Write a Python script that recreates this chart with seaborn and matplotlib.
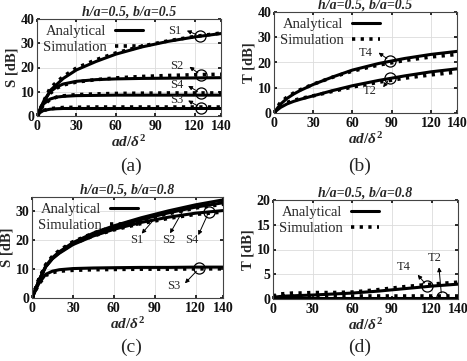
import matplotlib
matplotlib.use("Agg")
import matplotlib.pyplot as plt
from matplotlib.lines import Line2D
import seaborn as sns

# sample points along ad/delta^2
x_pts = [0, 2, 5, 10, 15, 20, 30, 45, 60, 80, 100, 120, 140]

# (a) h/a=0.5, b/a=0.5  -- S parameters
s1_ana_a = [0, 2, 5.5, 10.5, 13, 15.5, 19, 22.5, 25.5, 28.5, 30.8, 32.6, 34]
s1_sim_a = [0, 2.3, 6, 11.5, 14, 16.3, 19.8, 23.2, 26, 28.8, 31, 32.8, 34.2]
s2_ana_a = [0, 2.5, 6, 10, 12, 13.2, 14.3, 15, 15.3, 15.5, 15.6, 15.7, 15.8]
s2_sim_a = [0, 2.3, 5.5, 9.3, 11.5, 12.8, 14, 15, 15.7, 16.3, 16.7, 17, 17.2]
s4_ana_a = [0, 2.2, 5, 7, 7.8, 8.1, 8.4, 8.5, 8.6, 8.6, 8.6, 8.6, 8.6]
s4_sim_a = [0, 2, 4.6, 6.8, 7.8, 8.3, 8.8, 9.1, 9.3, 9.4, 9.5, 9.5, 9.5]
s3_ana_a = [0, 1.3, 2.3, 2.8, 3, 3.1, 3.1, 3.1, 3.1, 3.1, 3.1, 3.1, 3.1]
s3_sim_a = [0, 1.2, 2.3, 3, 3.3, 3.5, 3.6, 3.7, 3.7, 3.7, 3.7, 3.7, 3.7]

# (b) h/a=0.5, b/a=0.5  -- T parameters
t4_ana_b = [0, 1.5, 3.5, 5.8, 7.5, 8.9, 11.3, 14.3, 17, 19.6, 21.6, 23.2, 24.4]
t4_sim_b = [0, 2, 4.2, 6.3, 7.9, 9.2, 11.4, 14.2, 16.6, 19, 20.8, 22.2, 23.2]
t2_ana_b = [0, 1, 2.2, 3.6, 4.6, 5.4, 6.8, 8.9, 10.8, 12.9, 14.7, 16.3, 17.5]
t2_sim_b = [0, 1.5, 3, 4.2, 5, 5.7, 6.8, 8.6, 10.3, 12.2, 13.8, 15.1, 16.2]

# (c) h/a=0.5, b/a=0.8  -- S parameters
s1_ana_c = [0, 2.2, 6, 11, 14, 16, 19.2, 22.5, 25, 27.8, 30.2, 32.3, 34]
s1_sim_c = [0, 2.5, 6.5, 11.5, 14.5, 16.5, 19.5, 22.5, 24.8, 27.4, 29.7, 31.7, 33.3]
s2_ana_c = [0, 2.2, 6, 10.8, 13.7, 15.7, 18.8, 22, 24.5, 27.2, 29.5, 31.5, 33]
s2_sim_c = [0, 2.5, 6.3, 11.3, 14.2, 16.2, 19.2, 22.2, 24.4, 27, 29.2, 31.2, 32.5]
s4_ana_c = [0, 2.2, 6, 10.8, 13.6, 15.5, 18.5, 21.5, 23.8, 26.2, 28, 29.4, 30.3]
s4_sim_c = [0, 2.5, 6.3, 11.2, 14, 16, 18.8, 21.5, 23.6, 25.8, 27.6, 29, 29.8]
s3_ana_c = [0, 2.2, 5, 8.2, 9.3, 9.8, 10.2, 10.4, 10.5, 10.6, 10.6, 10.7, 10.7]
s3_sim_c = [0, 2, 4.8, 7.8, 8.8, 9.3, 9.6, 9.8, 9.9, 10, 10, 10.1, 10.1]

# (d) h/a=0.5, b/a=0.8  -- T parameters
t4_ana_d = [0.3, 0.4, 0.5, 0.6, 0.65, 0.7, 0.8, 1.0, 1.2, 1.6, 2.1, 2.6, 3.0]
t4_sim_d = [0.5, 0.8, 1.0, 1.1, 1.2, 1.2, 1.3, 1.3, 1.4, 1.9, 2.5, 3.0, 3.4]
t2_ana_d = [0.3, 0.3, 0.3, 0.3, 0.3, 0.3, 0.3, 0.3, 0.3, 0.3, 0.3, 0.3, 0.3]
t2_sim_d = [0.6, 0.6, 0.6, 0.6, 0.6, 0.6, 0.6, 0.6, 0.6, 0.6, 0.6, 0.6, 0.6]

x_ticks = [0, 30, 60, 90, 120, 140]

# annotations: (label, circle?, arrow start, arrow tip, text pos)
notes_a = [("S1", True, (124, 33), (114, 35.2), (105, 35.2)),
           ("S2", True, (125, 16.8), (116, 20.3), (106, 20.5)),
           ("S4", True, (125, 9.3), (115, 12.4), (106, 12.8)),
           ("S3", True, (125, 3.3), (115, 6.4), (106, 6.6))]
notes_b = [("T4", True, (89, 20.6), (80, 23.9), (70, 23.8)),
           ("T2", True, (89, 14), (83.5, 10.2), (73.5, 8.6))]
notes_c = [("S1", False, (93.8, 29.6), (80.4, 22.3), (76.7, 20)),
           ("S2", False, (110.9, 30.5), (101.2, 22.4), (99.9, 20)),
           ("S4", True, (129.7, 29.9), (121.9, 21.8), (117, 20)),
           ("S3", True, (122.6, 10.3), (112.1, 5.1), (103.6, 4.3))]
notes_d = [("T4", True, (116.8, 2.6), (109.5, 4.9), (98.6, 6.5)),
           ("T2", True, (127.6, 0.4), (125.6, 6.4), (122, 8.2))]

sns.set_theme(style="whitegrid")
plt.rcParams.update({
    "font.family": "Liberation Serif",
    "font.weight": "bold",
    "axes.labelweight": "bold",
    "axes.titleweight": "bold",
    "axes.edgecolor": "#444444",
    "axes.linewidth": 0.8,
    "grid.color": "#dcdcdc",
    "grid.linewidth": 0.6,
    "xtick.direction": "in",
    "ytick.direction": "in",
    "xtick.bottom": True,
    "ytick.left": True,
    "xtick.top": True,
    "ytick.right": True,
    "xtick.major.size": 2.5,
    "ytick.major.size": 2.5,
    "xtick.major.pad": 3,
    "ytick.major.pad": 2,
    "xtick.color": "#111111",
    "ytick.color": "#111111",
    "mathtext.fontset": "custom",
    "mathtext.it": "Liberation Serif:italic:bold",
    "mathtext.rm": "Liberation Serif:bold",
})

W, H = 467, 361
fig = plt.figure(figsize=(W / 100, H / 100), dpi=100)


def px_axes(l, t, r, b):
    return fig.add_axes([l / W, 1 - b / H, (r - l) / W, (b - t) / H])


panels = [
    (px_axes(37, 19, 221, 116), [(s1_ana_a, s1_sim_a), (s2_ana_a, s2_sim_a),
                                 (s4_ana_a, s4_sim_a), (s3_ana_a, s3_sim_a)],
     "S [dB]", (0, 40), [0, 10, 20, 30, 40], "h/a=0.5, b/a=0.5", notes_a),
    (px_axes(274, 12, 457, 113), [(t4_ana_b, t4_sim_b), (t2_ana_b, t2_sim_b)],
     "T [dB]", (0, 40), [0, 10, 20, 30, 40], "h/a=0.5, b/a=0.5", notes_b),
    (px_axes(32, 197, 223, 298), [(s1_ana_c, s1_sim_c), (s2_ana_c, s2_sim_c),
                                  (s4_ana_c, s4_sim_c), (s3_ana_c, s3_sim_c)],
     "S [dB]", (0, 35), [0, 10, 20, 30], "h/a=0.5, b/a=0.8", notes_c),
    (px_axes(273, 200, 458, 299), [(t4_ana_d, t4_sim_d), (t2_ana_d, t2_sim_d)],
     "T [dB]", (0, 20), [0, 5, 10, 15, 20], "h/a=0.5, b/a=0.8", notes_d),
]

sim_ls = (0, (0.9, 1.5))
for ax, curves, ylab, ylim, yticks, title, notes in panels:
    for ana, sim in curves:
        sns.lineplot(x=x_pts, y=ana, ax=ax, color="black", lw=2.2, sort=False)
        sns.lineplot(x=x_pts, y=sim, ax=ax, color="black", lw=2.6, ls=sim_ls, sort=False)
    ax.set_xlim(0, 140)
    ax.set_ylim(*ylim)
    ax.set_xticks(x_ticks)
    ax.set_yticks(yticks)
    ax.tick_params(labelsize=10)
    ax.set_ylabel(ylab, fontsize=10.5, labelpad=1)
    ax.set_xlabel(r"$ad/\delta^2$", fontsize=11, labelpad=0.5)
    ax.set_title(title, fontsize=10, style="italic", pad=1)
    for lab, circ, start, tip, tpos in notes:
        if circ:
            ax.plot([start[0]], [start[1]], marker="o", ms=8, mfc="none", mec="black", mew=0.9)
        ax.annotate("", xy=tip, xytext=start,
                    arrowprops=dict(arrowstyle="-|>", color="black", lw=0.7,
                                    mutation_scale=6, shrinkA=3 if circ else 0, shrinkB=0))
        ax.text(tpos[0], tpos[1], lab, ha="center", va="center", fontsize=9, fontweight="normal")
    handles = [Line2D([], [], color="black", lw=2.2),
               Line2D([], [], color="black", lw=2.6, ls=sim_ls)]
    ax.legend(handles, ["Analytical", "Simulation"], loc="upper left",
              markerfirst=False, frameon=False, handlelength=1.9, handletextpad=0.6,
              labelspacing=0.2, borderpad=0.2, borderaxespad=0.2,
              prop={"family": "Liberation Serif", "weight": "normal", "size": 10.5})

for lab, xp, yp in [("(a)", 131, 166), ("(b)", 360, 166), ("(c)", 131, 347), ("(d)", 360, 347)]:
    fig.text(xp / W, 1 - yp / H, lab, ha="center", va="center", fontsize=14, fontweight="normal")

fig.savefig("out.png", dpi=100)
